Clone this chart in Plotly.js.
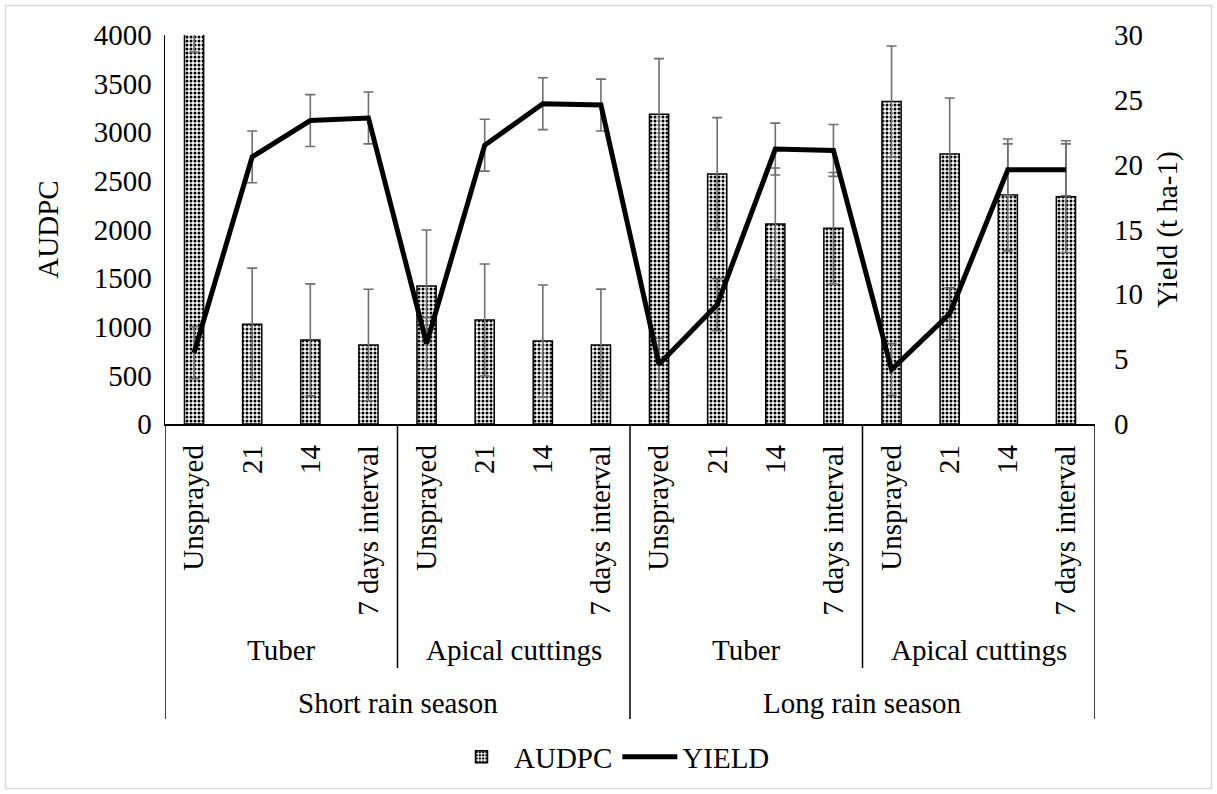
<!DOCTYPE html>
<html>
<head>
<meta charset="utf-8">
<script src="https://cdn.plot.ly/plotly-3.0.1.min.js"></script>
<style>
html,body{margin:0;padding:0;background:#fff;}
#chart{width:1217px;height:794px;}
</style>
</head>
<body>
<div id="chart"></div>
<script>
// ---- data ----
var intervals = ["Unsprayed","21","14","7 days interval","Unsprayed","21","14","7 days interval",
                 "Unsprayed","21","14","7 days interval","Unsprayed","21","14","7 days interval"];
var materials = ["Tuber","Apical cuttings","Tuber","Apical cuttings"];
var seasons = ["Short rain season","Long rain season"];
var audpc = [4400,1025,865,812,1419,1069,853,812,3184,2571,2057,2012,3315,2776,2355,2338];
var audpcErr = [575,578,576,573,576,576,577,575,573,579,575,574,572,576,575,575];
var yieldVals = [5.5,20.6,23.4,23.6,6.2,21.5,24.7,24.6,4.6,9.2,21.2,21.1,4.2,8.5,19.6,19.6];
var yieldErr = [2.0,2.0,2.0,2.0,2.0,2.0,2.0,2.0,2.0,2.0,2.0,2.0,2.0,2.0,2.0,2.0];
var yTicks = [0,500,1000,1500,2000,2500,3000,3500,4000];
var y2Ticks = [0,5,10,15,20,25,30];

// ---- layout geometry (pixels) ----
var W = 1217, H = 794;
var L = 165, R = 1095, T = 35, B = 424;
function py(p){ return (B - p) / (B - T); }      // pixel y -> paper y
function px(p){ return (p - L) / (R - L); }      // pixel x -> paper x

var FONT = 'Liberation Serif, Times New Roman, serif';
var FS = 29;
var idx = intervals.map(function(_, i){ return i; });

var bars = {
  type: 'bar', name: 'AUDPC', x: idx, y: audpc, width: 0.33,
  marker: {color: 'white', line: {color: 'black', width: 1.5},
           pattern: {shape: '.', fgcolor: 'black', bgcolor: 'white', size: 4, solidity: 0.45}},
  error_y: {type: 'data', array: audpcErr, visible: true, color: '#6f6f6f', thickness: 1.6, width: 5},
  hoverinfo: 'skip'
};
var line = {
  type: 'scatter', mode: 'lines', name: 'YIELD', x: idx, y: yieldVals, yaxis: 'y2',
  line: {color: 'black', width: 5},
  error_y: {type: 'data', array: yieldErr, visible: true, color: '#6f6f6f', thickness: 1.6, width: 5},
  hoverinfo: 'skip'
};

var shapes = [];
[-0.5, 7.5, 15.5].forEach(function(v){
  shapes.push({type:'line', xref:'x', yref:'paper', x0:v, x1:v, y0:0, y1:py(719), line:{color:'black', width:1.5}});
});
[3.5, 11.5].forEach(function(v){
  shapes.push({type:'line', xref:'x', yref:'paper', x0:v, x1:v, y0:0, y1:py(668), line:{color:'black', width:1.5}});
});
shapes.push({type:'rect', xref:'paper', yref:'paper', x0:px(5.5), x1:px(1211.5), y0:py(5.5), y1:py(788.5),
             line:{color:'#d9d9d9', width:1.5}, fillcolor:'rgba(0,0,0,0)', layer:'below'});

var annotations = [];
materials.forEach(function(m, i){
  annotations.push({text: m, xref:'x', yref:'paper', x: i*4 + 1.5, y: py(650), showarrow:false,
                    xanchor:'center', yanchor:'middle', font:{family:FONT, size:FS, color:'black'}});
});
seasons.forEach(function(s, i){
  annotations.push({text: s, xref:'x', yref:'paper', x: i*8 + 3.5, y: py(703), showarrow:false,
                    xanchor:'center', yanchor:'middle', font:{family:FONT, size:FS, color:'black'}});
});

var layout = {
  width: W, height: H,
  margin: {l: L, r: W - R, t: T, b: H - B},
  paper_bgcolor: 'white', plot_bgcolor: 'white',
  font: {family: FONT, size: FS, color: 'black'},
  showlegend: true,
  legend: {orientation: 'h', x: px(612), xanchor: 'center', y: py(757), yanchor: 'middle',
           font: {family: FONT, size: FS, color: 'black'}, itemwidth: 55, traceorder: 'normal'},
  xaxis: {range: [-0.5, 15.5], tickmode: 'array', tickvals: idx, ticktext: intervals,
          tickangle: -90, showgrid: false, zeroline: false, showline: true, linecolor: 'black',
          linewidth: 1.5, ticks: '', ticklabelstandoff: 8, tickfont: {family: FONT, size: FS}, fixedrange: true},
  yaxis: {range: [0, 4000], tickmode: 'array', tickvals: yTicks, showgrid: false, zeroline: false,
          showline: true, linecolor: 'black', linewidth: 1.5, ticks: '', ticklabelstandoff: 6,
          tickfont: {family: FONT, size: FS},
          title: {text: 'AUDPC', font: {family: FONT, size: FS}, standoff: 26}},
  yaxis2: {range: [0, 30], tickmode: 'array', tickvals: y2Ticks, overlaying: 'y', side: 'right',
           showgrid: false, zeroline: false, showline: false, ticks: '', ticklabelstandoff: 18,
           tickfont: {family: FONT, size: FS},
           title: {text: 'Yield (t ha-1)', font: {family: FONT, size: FS}, standoff: 14}},
  shapes: shapes,
  annotations: annotations
};

Plotly.newPlot('chart', [bars, line], layout, {displayModeBar: false, staticPlot: true});
</script>
</body>
</html>
